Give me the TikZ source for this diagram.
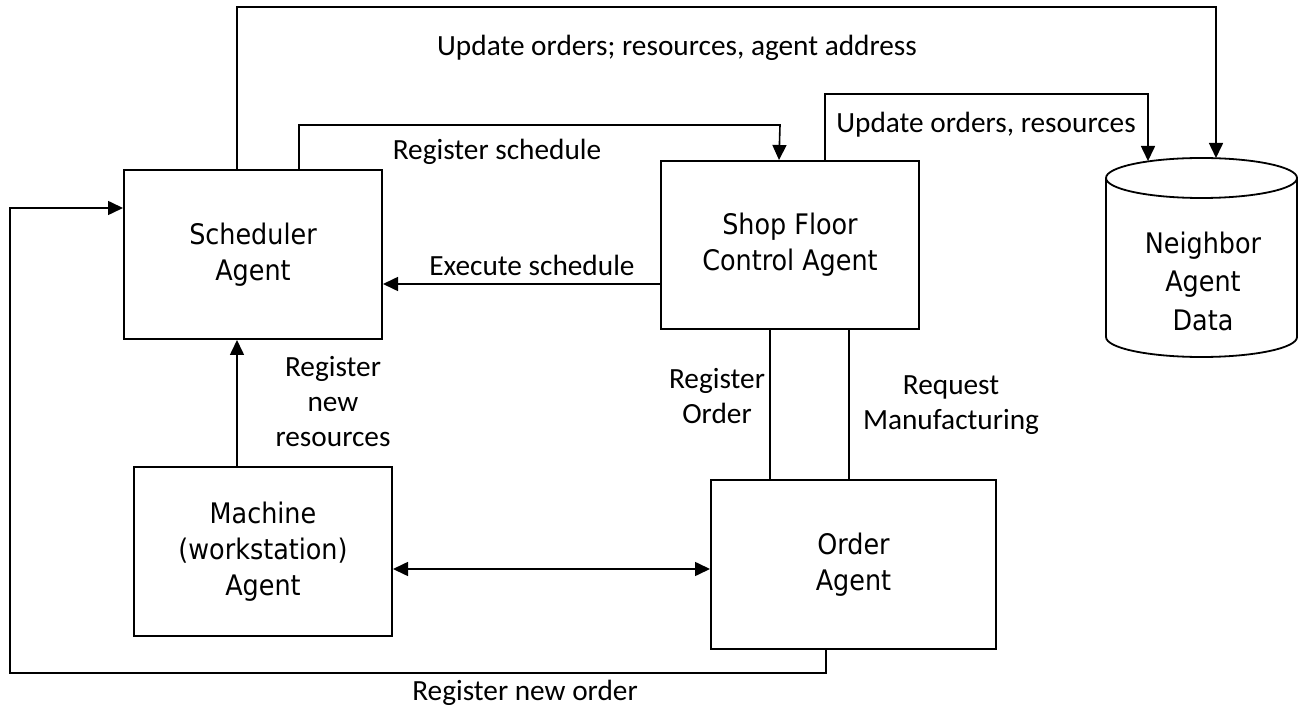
\documentclass[tikz,border=0pt]{standalone}
\usepackage{fontspec}
\setmainfont{Carlito}
\newfontfamily\boxfont{DejaVu Sans Condensed}
\usetikzlibrary{arrows.meta}
\begin{document}
\begin{tikzpicture}[x=1pt,y=-1pt,
  agent/.style={draw,line width=2pt,inner sep=0pt,align=center,
     font=\boxfont\fontsize{28.3}{36}\selectfont},
  lab/.style={align=center,inner sep=0pt,font=\fontsize{29.3}{35}\selectfont},
  conn/.style={line width=1.6pt},
  arr/.style={conn,-{Triangle[length=15pt,width=14pt]}},
  dbl/.style={conn,{Triangle[length=15pt,width=14pt]}-{Triangle[length=15pt,width=14pt]}}]
\useasboundingbox (0,0) rectangle (1298,708);
% agents
\node[agent,minimum width=258pt,minimum height=169pt] (sched) at (253,254.5) {Scheduler\\Agent};
\node[agent,minimum width=258pt,minimum height=168pt] (shop) at (790,245) {Shop Floor\\Control Agent};
\node[agent,minimum width=258pt,minimum height=169pt] (mach) at (263,551.5) {Machine\\(workstation)\\Agent};
\node[agent,minimum width=285pt,minimum height=169pt] (order) at (853.5,564.5) {Order\\Agent};
% database cylinder
\draw[line width=1.8pt] (1106,178) -- (1106,337) arc[start angle=180,end angle=360,x radius=95.5pt,y radius=20pt] -- (1297,178);
\draw[line width=1.8pt] (1201.5,178) ellipse [x radius=95.5pt,y radius=20pt];
\node[agent,draw=none,minimum width=191pt,minimum height=199pt,
  font=\boxfont\fontsize{28.3}{38.5}\selectfont] (nad) at (1203,281) {Neighbor\\Agent\\Data};
\coordinate (nadA) at (1148,161);
\coordinate (nadB) at (1216,158);
% connectors
\coordinate (topc) at (1216,7);
\draw[arr] ([xshift=114pt]sched.north west) |- (topc) -- (nadB);
\coordinate (rsc) at (780,125);
\draw[arr] ([xshift=176pt]sched.north west) |- (rsc) -- ([xshift=119pt]shop.north west);
\coordinate (uoc) at (1148,94);
\draw[arr] ([xshift=165pt]shop.north west) |- (uoc) -- (nadA);
\coordinate (es) at ([yshift=-39pt]shop.west);
\draw[arr] (es) -- (es -| sched.east);
\coordinate (mr) at ([xshift=104pt]mach.north west);
\draw[arr] (mr) -- (mr |- sched.south);
\coordinate (dd) at ([yshift=-4.5pt]order.west);
\draw[dbl] (dd -| mach.east) -- (dd);
\coordinate (ro) at ([xshift=60pt]order.north west);
\draw[conn] (ro) -- (ro |- shop.south);
\coordinate (rm) at ([xshift=139pt]order.north west);
\draw[conn] (rm) -- (rm |- shop.south);
\coordinate (bo) at ([xshift=116pt]order.south west);
\coordinate (bl) at (10,673);
\coordinate (sl) at ([yshift=46.5pt]sched.west);
\draw[arr] (bo) |- (bl) |- (sl);
% labels
\node[lab] (l1) at (677,48) {Update orders; resources, agent address};
\node[lab] (l2) at (497,152) {Register schedule};
\node[lab] (l3) at (986,125) {Update orders, resources};
\node[lab] (l4) at (532,265) {Execute schedule};
\node[lab] (l5) at (333,402) {Register\\new\\resources};
\node[lab] (l6) at (717,396) {Register\\Order};
\node[lab] (l7) at (951,405) {Request\\Manufacturing};
\node[lab] (l8) at (525,693) {Register new order};
\end{tikzpicture}
\end{document}
